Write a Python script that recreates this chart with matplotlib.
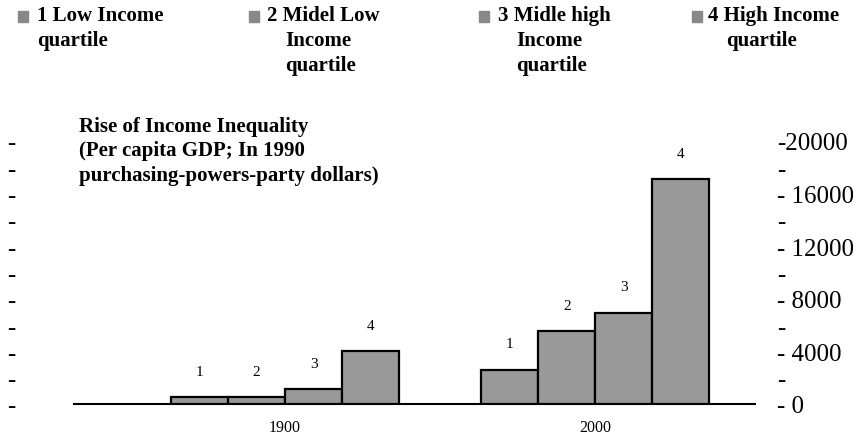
import matplotlib.pyplot as plt
import matplotlib.patches as mpatches
import numpy as np

years = ['1900', '2000']
quartiles = ['1', '2', '3', '4']
legend_labels = ['1 Low Income\nquartile',
                 '2 Midel Low\nIncome\nquartile',
                 '3 Midle high\nIncome\nquartile',
                 '4 High Income\nquartile']
# per capita GDP by quartile (rows: quartile, cols: year)
gdp = [[530, 2590],
       [530, 5550],
       [1140, 6920],
       [4030, 17100]]
title = 'Rise of Income Inequality\n(Per capita GDP; In 1990\npurchasing-powers-party dollars)'
yticks = np.arange(0, 20001, 2000)

serif = ['Liberation Serif', 'DejaVu Serif']
bar_color = '#999999'


def main():
    plt.rcParams['font.family'] = serif
    fig = plt.figure(figsize=(8.61, 4.35), dpi=100)
    ax = fig.add_axes([0.086, 0.069, 0.791, 0.605])

    x = np.arange(len(years))
    width = 0.184
    for i, q in enumerate(quartiles):
        pos = x + (i - 1.5) * width
        bars = ax.bar(pos, gdp[i], width, color=bar_color,
                      edgecolor='black', linewidth=1.6, zorder=3)
        for b in bars:
            ax.annotate(q, (b.get_x() + b.get_width() / 2, b.get_height()),
                        xytext=(0, 14), textcoords='offset points',
                        ha='center', va='bottom', fontsize=11)

    ax.set_xlim(-0.68, 1.515)
    ax.set_ylim(0, 20000)
    ax.set_xticks(x)
    ax.set_xticklabels(years, fontsize=11.5)
    ax.tick_params(axis='x', length=0, pad=11)

    for s in ['top', 'left', 'right']:
        ax.spines[s].set_visible(False)
    ax.spines['bottom'].set_linewidth(1.5)

    # dash-only labels on the left
    ax.set_yticks(yticks)
    ax.set_yticklabels(['-'] * len(yticks), fontsize=18)
    ax.tick_params(axis='y', length=0, pad=42)

    ax2 = ax.twinx()
    ax2.set_ylim(ax.get_ylim())
    ax2.set_yticks(yticks)
    rlabels = []
    for v in yticks:
        if v == 20000:
            rlabels.append('-%d' % v)
        elif v % 4000 == 0:
            rlabels.append('- %d' % v)
        else:
            rlabels.append('-')
    ax2.set_yticklabels(rlabels, fontsize=18)
    ax2.tick_params(axis='y', length=0, pad=16)
    for s in ax2.spines.values():
        s.set_visible(False)

    fig.text(0.092, 0.732, title, fontsize=15, fontweight='bold',
             ha='left', va='top', linespacing=1.3)

    # legend row along the top
    box_x = [18, 249, 479, 692]
    txt_x = [37, 267, 498, 708]
    W, H = 861.0, 435.0
    for i, lab in enumerate(legend_labels):
        fig.add_artist(mpatches.Rectangle((box_x[i] / W, 1 - 23 / H), 10 / W, 11 / H,
                                          transform=fig.transFigure,
                                          color='#888888'))
        first, rest = lab.split('\n', 1)
        indent = 0 if i == 0 else 18
        fig.text(txt_x[i] / W, 1 - 6 / H, first, fontsize=15, fontweight='bold',
                 ha='left', va='top')
        fig.text((txt_x[i] + indent) / W, 1 - 31 / H, rest, fontsize=15,
                 fontweight='bold', ha='left', va='top', linespacing=1.32)

    fig.savefig('out.png', dpi=100)


if __name__ == '__main__':
    main()
